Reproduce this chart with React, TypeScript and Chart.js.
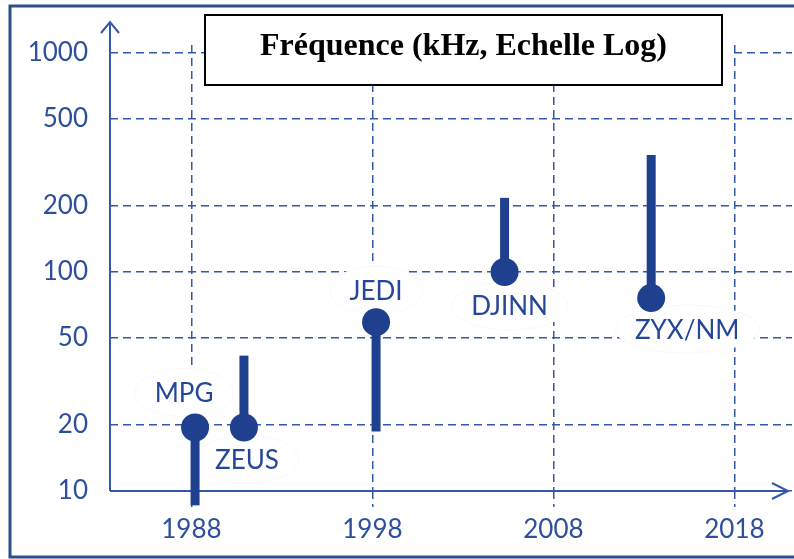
import React, { useEffect, useRef } from "react";
import { Chart, registerables } from "chart.js";

Chart.register(...registerables);

// ---------- data ----------
const systems = ["MPG", "ZEUS", "JEDI", "DJINN", "ZYX/NM"];
const years = [1988.2, 1990.9, 1998.2, 2005.3, 2013.4];
const pointFreq = [19.5, 19.5, 59, 100, 76];
const stemLow = [8.6, 19.5, 18.7, 100, 76];
const stemHigh = [19.5, 41.5, 59, 218, 342];
const xTicks = [1988, 1998, 2008, 2018];
const yTicks = [10, 20, 50, 100, 200, 500, 1000];
const titleText = "Fréquence (kHz, Echelle Log)";

// ---------- style ----------
const MARK = "#1f408e";
const GRID = "#3458a8";
const TICK_TEXT = "#2e509c";
const LABEL_TEXT = "#25479a";
const FRAME = "#2b5088";
const TICK_FONT = { family: "Lato", size: 26 };
const LABEL_FONT = '26px "Lato"';
// pixel offsets of each label centre from its point
const labelOffsets: [number, number][] = [
  [-11, -35],
  [3, 32],
  [0, -32],
  [5, 34],
  [36, 31],
];

const decor = {
  id: "decor",
  beforeDatasetsDraw(chart: any) {
    const { ctx, chartArea, scales } = chart;
    const x = scales.x;
    const y = scales.y;
    const x0 = chartArea.left;
    const y0 = y.getPixelForValue(10);
    const topY = chartArea.top - 23;
    const endX = chartArea.right - 4;
    ctx.save();
    ctx.strokeStyle = GRID;
    ctx.lineWidth = 2;
    ctx.setLineDash([]);
    ctx.beginPath();
    ctx.moveTo(x0, y0);
    ctx.lineTo(x0, topY);
    ctx.moveTo(x0, y0);
    ctx.lineTo(endX, y0);
    ctx.moveTo(x0 - 9, topY + 11);
    ctx.lineTo(x0, topY);
    ctx.lineTo(x0 + 9, topY + 11);
    ctx.moveTo(endX - 16, y0 - 8);
    ctx.lineTo(endX, y0);
    ctx.lineTo(endX - 16, y0 + 8);
    ctx.stroke();

    ctx.font = LABEL_FONT;
    systems.forEach((s, i) => {
      const cx = x.getPixelForValue(years[i]) + labelOffsets[i][0];
      const cy = y.getPixelForValue(pointFreq[i]) + labelOffsets[i][1];
      const w = ctx.measureText(s).width;
      ctx.beginPath();
      ctx.ellipse(cx, cy, w / 2 + 20, 24, 0, 0, Math.PI * 2);
      ctx.fillStyle = "#ffffff";
      ctx.fill();
      ctx.strokeStyle = "#f8f8f8";
      ctx.lineWidth = 1;
      ctx.stroke();
    });
    ctx.restore();
  },
  afterDatasetsDraw(chart: any) {
    const { ctx, scales } = chart;
    const x = scales.x;
    const y = scales.y;
    ctx.save();
    ctx.font = LABEL_FONT;
    ctx.fillStyle = LABEL_TEXT;
    ctx.textAlign = "center";
    ctx.textBaseline = "middle";
    systems.forEach((s, i) => {
      const cx = x.getPixelForValue(years[i]) + labelOffsets[i][0];
      const cy = y.getPixelForValue(pointFreq[i]) + labelOffsets[i][1];
      ctx.fillText(s, cx, cy + 1);
    });
    ctx.restore();
  },
  afterDraw(chart: any) {
    const { ctx } = chart;
    ctx.save();
    // title box
    ctx.fillStyle = "#ffffff";
    ctx.fillRect(205, 15, 528, 70);
    ctx.strokeStyle = "#000000";
    ctx.lineWidth = 2;
    ctx.setLineDash([]);
    ctx.strokeRect(205, 15, 517, 70);
    ctx.fillStyle = "#000000";
    ctx.font = 'bold 32px "Liberation Serif"';
    ctx.textAlign = "center";
    ctx.textBaseline = "alphabetic";
    ctx.fillText(titleText, 463.5, 55);
    // outer frame
    ctx.strokeStyle = FRAME;
    ctx.lineWidth = 3;
    ctx.strokeRect(10, 6, 800, 551);
    ctx.restore();
  },
};

export default function App() {
  const ref = useRef<HTMLCanvasElement>(null);

  useEffect(() => {
    if (!ref.current) return;
    const stemSets = systems.map((s, i) => ({
      label: s,
      type: "scatter" as const,
      showLine: true,
      data: [
        { x: years[i], y: stemLow[i] },
        { x: years[i], y: stemHigh[i] },
      ],
      borderColor: MARK,
      borderWidth: 9,
      borderCapStyle: "butt" as const,
      pointRadius: 0,
      clip: false as any,
      order: 1,
    }));
    const chart = new Chart(ref.current, {
      type: "scatter",
      data: {
        datasets: [
          {
            label: "points",
            data: years.map((yr, i) => ({ x: yr, y: pointFreq[i] })),
            pointRadius: 14,
            pointBackgroundColor: MARK,
            pointBorderWidth: 0,
            backgroundColor: MARK,
            borderColor: MARK,
            clip: false as any,
            order: 0,
          },
          ...stemSets,
        ],
      },
      plugins: [decor],
      options: {
        responsive: false,
        animation: false,
        events: [],
        layout: {
          autoPadding: false,
          padding: { top: 45, right: 2, left: 0, bottom: 0 },
        },
        plugins: {
          legend: { display: false },
          tooltip: { enabled: false },
          title: { display: false },
        },
        scales: {
          x: {
            type: "linear",
            min: 1983.5,
            max: 2021.18,
            afterBuildTicks: (s: any) => {
              s.ticks = xTicks.map((v) => ({ value: v }));
            },
            afterFit: (s: any) => {
              s.height = 68;
              s.paddingLeft = 0;
              s.paddingRight = 0;
            },
            border: { display: false, dash: [8, 5] },
            grid: {
              color: GRID,
              lineWidth: 1.5,
              drawTicks: true,
              tickLength: 16,
              tickColor: GRID,
              tickWidth: 1.5,
              tickBorderDash: [8, 5],
            },
            ticks: {
              color: TICK_TEXT,
              font: TICK_FONT,
              padding: 7,
              autoSkip: false,
              maxRotation: 0,
              callback: (v: any) => String(v),
            },
          },
          y: {
            type: "logarithmic",
            min: 10,
            max: 1088,
            afterBuildTicks: (s: any) => {
              s.ticks = yTicks.map((v) => ({ value: v }));
            },
            afterFit: (s: any) => {
              s.width = 110;
              s.paddingTop = 0;
              s.paddingBottom = 0;
            },
            border: { display: false, dash: [8, 5] },
            grid: {
              color: GRID,
              lineWidth: 1.5,
              drawTicks: false,
            },
            ticks: {
              color: TICK_TEXT,
              font: TICK_FONT,
              padding: 22,
              autoSkip: false,
              callback: (v: any) => String(v),
            },
          },
        },
      },
    });
    return () => chart.destroy();
  }, []);

  return (
    <div
      style={{
        position: "fixed",
        left: 0,
        top: 0,
        width: 794,
        height: 559,
        background: "#ffffff",
      }}
    >
      <canvas ref={ref} width={794} height={559} style={{ display: "block" }} />
    </div>
  );
}
